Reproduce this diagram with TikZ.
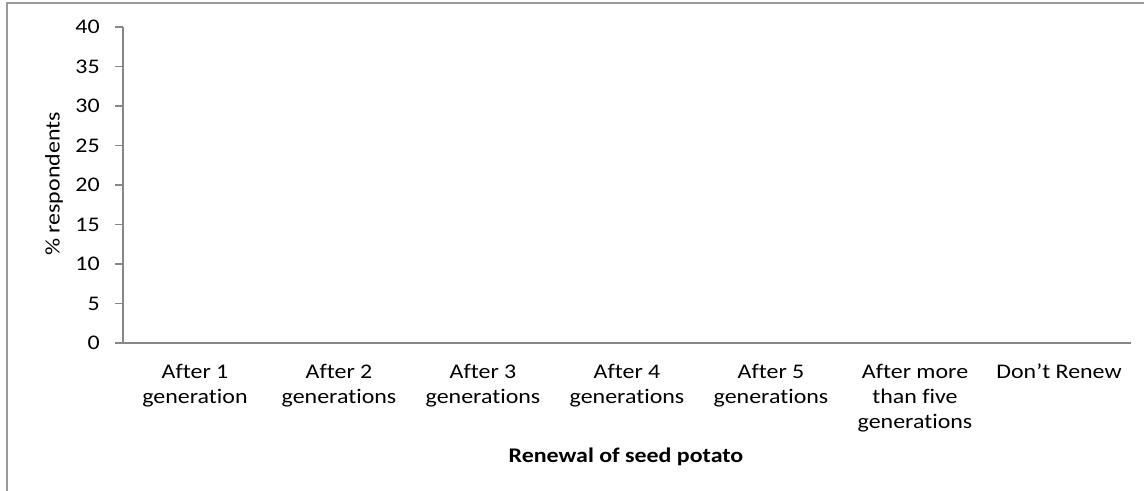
\documentclass[tikz,border=0pt]{standalone}
\usepackage{fontspec}
\setmainfont{Carlito}[FakeStretch=1.15,RawFeature={-liga;-clig;-dlig}]
\begin{document}
\begin{tikzpicture}[x=0.75pt,y=-0.75pt,
  frame/.style={draw=black!40,line width=1.5pt},
  axisline/.style={draw=black!47,line width=0.9pt},
  ticklab/.style={anchor=east,inner sep=0pt,font=\fontsize{15.6pt}{18.6pt}\selectfont},
  catlab/.style={anchor=north,inner sep=0pt,align=center,font=\fontsize{15.6pt}{18.6pt}\selectfont},
  axtitle/.style={inner sep=0pt,font=\fontsize{15.6pt}{18.6pt}\selectfont}]
\useasboundingbox (0,0) rectangle (1144,490);
\fill[white] (0,0) rectangle (1144,490);
% outer frame (cut at right and bottom)
\coordinate (f1) at (1146,3);
\coordinate (f2) at (7,3);
\coordinate (f3) at (7,492);
\draw[frame] (f1) -- (f2) -- (f3);
% axes
\coordinate (o) at (123,343);
\coordinate (ytop) at (123,27);
\coordinate (xend) at (1131,343);
\draw[axisline] (ytop) -- (o) -- (xend);
% y ticks and labels
\foreach \v [count=\i from 0] in {0,5,...,40} {
  \coordinate (t\i) at (123,343-39.5*\i);
  \coordinate (tl\i) at (115,343-39.5*\i);
  \draw[axisline] (tl\i) -- (t\i);
  \node[ticklab] (yl\i) at (100,343-39.5*\i) {\v};
}
% category labels
\node[catlab] (c1) at (195,364) {After 1\\generation};
\node[catlab] (c2) at (339,364) {After 2\\generations};
\node[catlab] (c3) at (483,364) {After 3\\generations};
\node[catlab] (c4) at (627,364) {After 4\\generations};
\node[catlab] (c5) at (771,364) {After 5\\generations};
\node[catlab] (c6) at (915,364) {After more\\than five\\generations};
\node[catlab] (c7) at (1059,364) {Don’t Renew};
% axis titles
\node[axtitle,anchor=base] (xt) at (626,462) {\bfseries Renewal of seed potato};
\node[axtitle,rotate=90] (yt) at (54,184) {\% respondents};
\end{tikzpicture}
\end{document}
